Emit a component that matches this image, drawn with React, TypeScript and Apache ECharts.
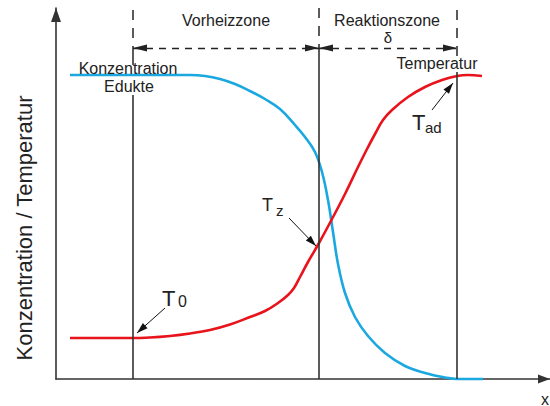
import React, { useEffect, useRef } from "react";
import * as echarts from "echarts";

// Position units: x = 0 at the y axis, y = 0 at the x axis (schematic units)
const concX = [14, 74, 134, 149, 164, 179, 194, 209, 224, 239, 249, 259, 266, 272, 277, 282, 289, 299, 312, 329, 349, 369, 389, 401, 427];
const concY = [304, 304, 304, 303, 300, 295, 288, 280, 270, 254, 242, 227, 207, 179, 147, 115, 86, 62, 43, 26, 13, 6, 1.5, 0, 0];

const tempX = [14, 74, 94, 114, 134, 154, 174, 194, 209, 222, 232, 238, 244, 252, 263, 276, 289, 302, 310, 319, 327, 336, 352, 369, 386, 401, 412, 426];
const tempY = [41, 41, 41.5, 43, 45.5, 49, 54.5, 62, 68, 76, 84, 91, 102, 117, 136, 160, 185, 212, 228, 245, 259, 269, 282, 292, 299, 303, 304, 303];

// zone boundaries (x) and their solid / dashed parts [x, yFrom, yTo]
const zoneX = [77, 263, 401];
const solidParts = [
  [77, 331, 314],
  [77, 284, 0],
  [263, 331, 0],
  [401, 307, 0],
];
const dashedParts = [
  [77, 369, 331],
  [263, 371, 331],
  [401, 369, 322],
];
const zoneArrowY = 331;

// annotation arrows [xFrom, yFrom, xTo, yTo]
const pointerArrows = [
  [109, 71, 81, 46],
  [233, 161, 260, 133],
  [376, 269, 397, 296],
];

const FONT = '"Liberation Sans", Arial, Helvetica, sans-serif';
const INK = "#222";

function txt(text: string, x: number, y: number, size: number, align = "center", extra: any = {}) {
  return {
    type: "text",
    x,
    y,
    silent: true,
    z: 10,
    ...extra,
    style: {
      text,
      font: `${size}px ${FONT}`,
      fill: INK,
      align,
      textAlign: align,
      verticalAlign: "middle",
      textVerticalAlign: "middle",
    },
  };
}

const ZONE_HEAD = [7, 14];
const POINTER_HEAD = [7, 11];

export default function App() {
  const ref = useRef<HTMLDivElement>(null);
  useEffect(() => {
    if (!ref.current) return;
    const chart = echarts.init(ref.current, undefined, { renderer: "svg" });
    const axisLine = (size: number[], off: number) => ({
      show: true,
      onZero: false,
      symbol: ["none", "triangle"],
      symbolSize: size,
      symbolOffset: [0, off],
      lineStyle: { color: "#333", width: 1.6 },
    });
    const head = (coord: number[], size: number[]) => ({
      coord,
      symbol: "triangle",
      symbolSize: size,
      symbolOffset: [0, size[1] / 2],
    });
    const tail = (coord: number[]) => ({ coord, symbol: "none", symbolSize: 1 });
    const option: any = {
      animation: false,
      grid: { left: 56, right: 0, top: 8, bottom: 27 },
      xAxis: {
        type: "value",
        min: 0,
        max: 494,
        axisLine: axisLine([9, 12], -6),
        axisTick: { show: false },
        axisLabel: { show: false },
        splitLine: { show: false },
      },
      yAxis: {
        type: "value",
        min: 0,
        max: 371,
        axisLine: axisLine([10, 14], -7),
        axisTick: { show: false },
        axisLabel: { show: false },
        splitLine: { show: false },
      },
      series: [
        {
          type: "line",
          data: [],
          clip: false,
          silent: true,
          z: 1,
          markLine: {
            silent: true,
            symbol: ["none", "none"],
            label: { show: false },
            emphasis: { disabled: true },
            lineStyle: { color: "#333", width: 1.6, type: "solid" },
            data: solidParts.map((p) => [tail([p[0], p[1]]), tail([p[0], p[2]])]),
          },
        },
        {
          type: "line",
          data: [],
          clip: false,
          silent: true,
          z: 1,
          markLine: {
            silent: true,
            symbol: ["none", "none"],
            label: { show: false },
            emphasis: { disabled: true },
            lineStyle: { color: "#333", width: 1.6, type: [10, 8] },
            data: dashedParts.map((p) => [tail([p[0], p[1]]), tail([p[0], p[2]])]),
          },
        },
        {
          type: "line",
          data: [],
          clip: false,
          silent: true,
          z: 2,
          markLine: {
            silent: true,
            symbol: ["triangle", "triangle"],
            label: { show: false },
            emphasis: { disabled: true },
            itemStyle: { color: "#111" },
            lineStyle: { color: "#222", width: 1.4, type: [7, 6] },
            data: [
              [head([zoneX[0], zoneArrowY], ZONE_HEAD), head([zoneX[1], zoneArrowY], ZONE_HEAD)],
              [head([zoneX[1], zoneArrowY], ZONE_HEAD), head([zoneX[2], zoneArrowY], ZONE_HEAD)],
            ],
          },
        },
        {
          type: "line",
          data: [],
          clip: false,
          silent: true,
          z: 4,
          markLine: {
            silent: true,
            symbol: ["none", "triangle"],
            label: { show: false },
            emphasis: { disabled: true },
            itemStyle: { color: "#111" },
            lineStyle: { color: "#111", width: 1, type: "solid" },
            data: pointerArrows.map((a) => [tail([a[0], a[1]]), head([a[2], a[3]], POINTER_HEAD)]),
          },
        },
        {
          type: "line",
          name: "Konzentration Edukte",
          data: concX.map((x, i) => [x, concY[i]]),
          smooth: 0.4,
          showSymbol: false,
          silent: true,
          clip: false,
          z: 3,
          lineStyle: { color: "#1BA8E0", width: 2.6 },
        },
        {
          type: "line",
          name: "Temperatur",
          data: tempX.map((x, i) => [x, tempY[i]]),
          smooth: 0.4,
          showSymbol: false,
          silent: true,
          clip: false,
          z: 3,
          lineStyle: { color: "#E8131B", width: 2.6 },
        },
      ],
      graphic: [
        txt("Vorheizzone", 226, 20, 16),
        txt("Reaktionszone", 387, 20, 16),
        txt("δ", 388, 37, 15),
        txt("Konzentration", 128, 68, 16),
        txt("Edukte", 129, 86, 16),
        txt("Temperatur", 437, 63, 16),
        txt("T", 162, 298, 22, "left"),
        txt("0", 178, 301, 16, "left"),
        txt("T", 262, 205, 18, "left"),
        txt("z", 276, 210, 15, "left"),
        txt("T", 412, 122, 22, "left"),
        txt("ad", 425, 127, 15, "left"),
        txt("Konzentration / Temperatur", 24, 228, 22, "center", { rotation: Math.PI / 2 }),
        txt("x", 541, 399, 16, "left"),
      ],
    };
    chart.setOption(option);
    return () => chart.dispose();
  }, []);
  return (
    <div
      ref={ref}
      style={{ position: "absolute", left: 0, top: 0, width: 550, height: 406, background: "#fff" }}
    />
  );
}
